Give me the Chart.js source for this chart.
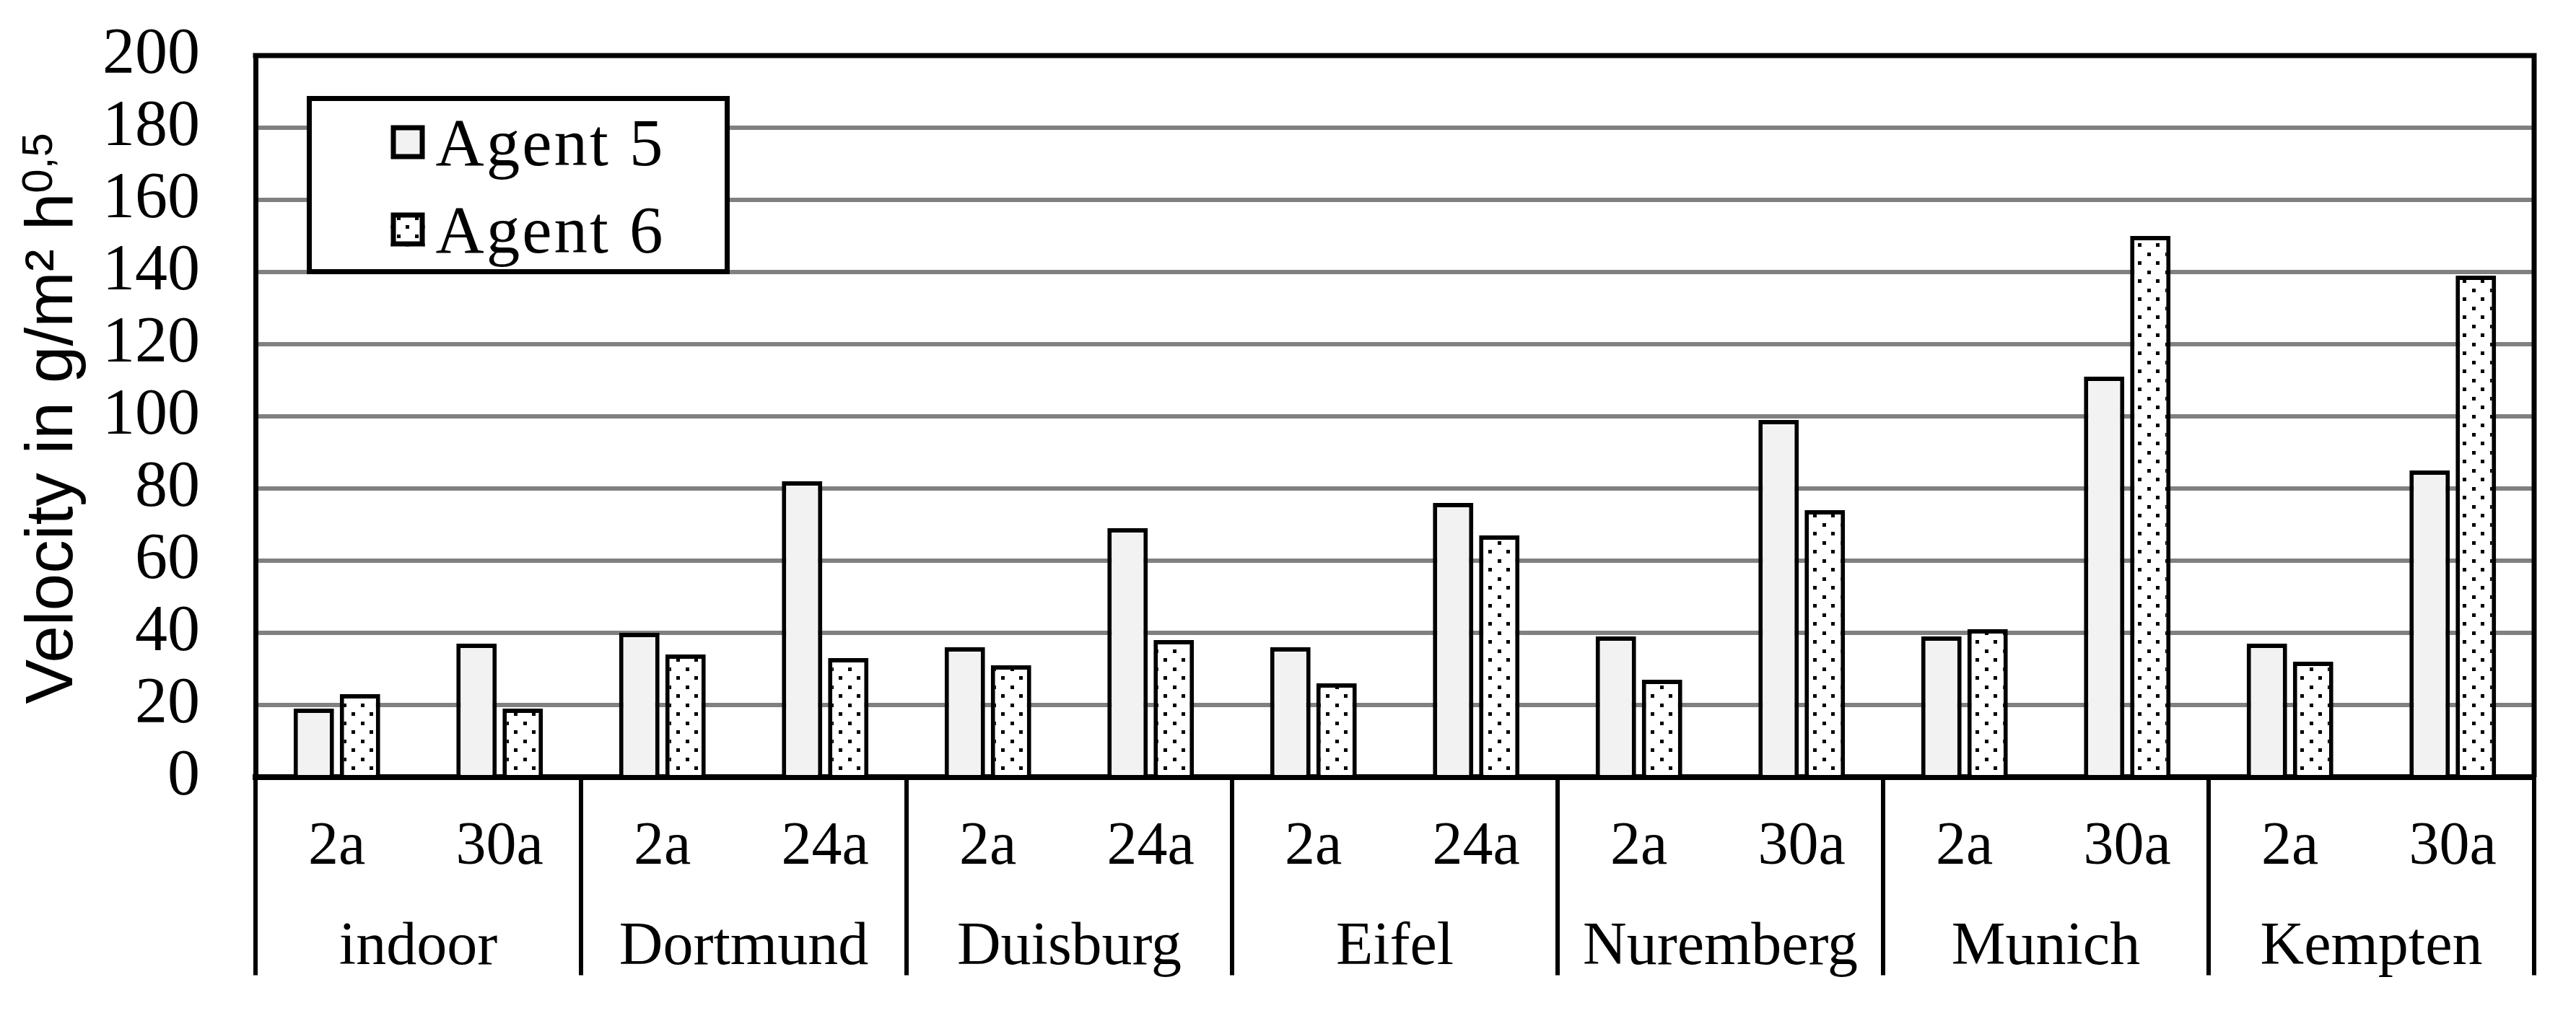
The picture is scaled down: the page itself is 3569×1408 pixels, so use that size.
<!DOCTYPE html>
<html>
<head>
<meta charset="utf-8">
<title>Velocity</title>
<script src="https://cdn.jsdelivr.net/npm/chart.js@4.4.0/dist/chart.umd.min.js"></script>
<style>
    html, body { margin: 0; padding: 0; background: #fff; }
    #chart-wrap { width: 3569px; height: 1408px; }
</style>
</head>
<body>
<div id="chart-wrap"><canvas id="velocity-chart" width="3569" height="1408"></canvas></div>
<script>
// Chart data
const subLabels = ["2a", "30a", "2a", "24a", "2a", "24a", "2a", "24a", "2a", "30a", "2a", "30a", "2a", "30a"];
const groupLabels = ["indoor", "Dortmund", "Duisburg", "Eifel", "Nuremberg", "Munich", "Kempten"];
const agent5Values = [19, 37, 40, 82, 36, 69, 36, 76, 39, 99, 39, 111, 37, 85];
const agent6Values = [23, 19, 34, 33, 31, 38, 26, 67, 27, 74, 41, 150, 32, 139];
const yTickValues = [0, 20, 40, 60, 80, 100, 120, 140, 160, 180, 200];

const serif = "'Liberation Serif', 'Times New Roman', serif";
const sans = "'Liberation Sans', Arial, sans-serif";

// Dotted fill for Agent 6
function makeDotPattern() {
    const tile = document.createElement("canvas");
    tile.width = 25;
    tile.height = 25;
    const t = tile.getContext("2d");
    t.fillStyle = "#fff";
    t.fillRect(0, 0, 25, 25);
    t.fillStyle = "#000";
    t.fillRect(0, 0, 5, 5);
    t.fillRect(12, 12, 5, 5);
    return document.getElementById("velocity-chart").getContext("2d").createPattern(tile, "repeat");
}

// Top/right frame and the group separators under the axis
const frameLines = {
    id: "frameLines",
    afterDraw(chart) {
        const { ctx, chartArea } = chart;
        const xs = chart.scales.x;
        const x2 = chart.scales.x2;
        ctx.save();
        ctx.strokeStyle = "#000";
        ctx.lineWidth = 7;
        ctx.beginPath();
        ctx.moveTo(chartArea.left - 3.5, chartArea.top);
        ctx.lineTo(chartArea.right, chartArea.top);
        ctx.lineTo(chartArea.right, chartArea.bottom);
        ctx.stroke();

        const perGroup = subLabels.length / groupLabels.length;
        const sepEnd = x2.top + 143;
        ctx.lineWidth = 6;
        for (let g = 0; g <= groupLabels.length; g++) {
            const i = g * perGroup;
            let px;
            if (i === 0) px = chartArea.left;
            else if (i >= subLabels.length) px = chartArea.right;
            else px = (xs.getPixelForValue(i - 1) + xs.getPixelForValue(i)) / 2;
            ctx.beginPath();
            ctx.moveTo(px, chartArea.bottom);
            ctx.lineTo(px, sepEnd);
            ctx.stroke();
        }
        ctx.restore();
    }
};

// Boxed legend inside the plot
const boxLegend = {
    id: "boxLegend",
    afterDatasetsDraw(chart) {
        const { ctx, chartArea } = chart;
        const bx = chartArea.left + 74.5;
        const by = chartArea.top + 59.5;
        ctx.save();
        ctx.fillStyle = "#fff";
        ctx.fillRect(bx, by, 579, 240);
        ctx.lineWidth = 7;
        ctx.strokeStyle = "#000";
        ctx.strokeRect(bx, by, 579, 240);
        chart.data.datasets.forEach((ds, k) => {
            const sx = bx + 113;
            const sy = by + 37 + k * 121;
            ctx.fillStyle = ds.backgroundColor;
            ctx.fillRect(sx, sy, 47, 47);
            ctx.lineWidth = 7;
            ctx.strokeRect(sx + 3.5, sy + 3.5, 40, 40);
            ctx.fillStyle = "#000";
            ctx.font = "93px " + serif;
            ctx.textAlign = "left";
            ctx.textBaseline = "alphabetic";
            if ("letterSpacing" in ctx) ctx.letterSpacing = "3px";
            ctx.fillText(ds.label, bx + 175, by + 92 + k * 121);
            if ("letterSpacing" in ctx) ctx.letterSpacing = "0px";
        });
        ctx.restore();
    }
};

// Y title with superscript exponent
const yTitle = {
    id: "yTitle",
    afterDraw(chart) {
        const { ctx, chartArea } = chart;
        const main = "Velocity in g/m\u00b2 h";
        const sup = "0,5";
        const mainFont = "93px " + sans;
        const supFont = "60px " + sans;
        ctx.save();
        ctx.fillStyle = "#000";
        ctx.font = mainFont;
        const wm = ctx.measureText(main).width;
        ctx.font = supFont;
        const ws = ctx.measureText(sup).width;
        const cy = (chartArea.top + chartArea.bottom) / 2 + 3;
        ctx.translate(100, cy + (wm + ws) / 2);
        ctx.rotate(-Math.PI / 2);
        ctx.textAlign = "left";
        ctx.textBaseline = "alphabetic";
        ctx.font = mainFont;
        ctx.fillText(main, 0, 0);
        ctx.font = supFont;
        ctx.fillText(sup, wm, -28);
        ctx.restore();
    }
};

Chart.defaults.font.family = serif;
Chart.defaults.color = "#000";

new Chart(document.getElementById("velocity-chart"), {
    type: "bar",
    data: {
        labels: subLabels,
        datasets: [
            {
                label: "Agent 5",
                data: agent5Values,
                backgroundColor: "#f2f2f2",
                borderColor: "#000",
                borderWidth: 6
            },
            {
                label: "Agent 6",
                data: agent6Values,
                backgroundColor: makeDotPattern(),
                borderColor: "#000",
                borderWidth: 6
            }
        ]
    },
    options: {
        responsive: false,
        animation: false,
        devicePixelRatio: 1,
        categoryPercentage: 0.5676,
        barPercentage: 0.875,
        layout: { padding: { left: 0, top: 77, right: 58, bottom: 20 } },
        plugins: {
            legend: { display: false },
            tooltip: { enabled: false },
            title: { display: false }
        },
        scales: {
            x: {
                type: "category",
                offset: true,
                weight: 0,
                afterFit: (scale) => {
                    scale.height = 131.5;
                },
                grid: { display: false, drawTicks: false },
                border: { color: "#000", width: 8 },
                ticks: {
                    padding: 56,
                    autoSkip: false,
                    maxRotation: 0,
                    color: "#000",
                    font: { family: serif, size: 84, lineHeight: 1 }
                }
            },
            x2: {
                type: "category",
                labels: groupLabels,
                offset: true,
                position: "bottom",
                weight: 1,
                afterFit: (scale) => {
                    scale.height = 179.5;
                },
                grid: { display: false, drawTicks: false },
                border: { display: false },
                ticks: {
                    padding: 63,
                    autoSkip: false,
                    maxRotation: 0,
                    color: "#000",
                    font: { family: serif, size: 84, lineHeight: 1 }
                }
            },
            y: {
                min: 0,
                max: 200,
                afterBuildTicks: (scale) => {
                    scale.ticks = yTickValues.map((v) => ({ value: v }));
                },
                afterFit: (scale) => {
                    scale.width = 354;
                    scale.paddingTop = 0;
                    scale.paddingBottom = 0;
                },
                grid: { color: "#808080", lineWidth: 6, drawTicks: false },
                border: { color: "#000", width: 7 },
                ticks: {
                    padding: 77,
                    autoSkip: false,
                    color: "#000",
                    font: { family: serif, size: 90, lineHeight: 1 }
                }
            }
        }
    },
    plugins: [boxLegend, frameLines, yTitle]
});
</script>
</body>
</html>
